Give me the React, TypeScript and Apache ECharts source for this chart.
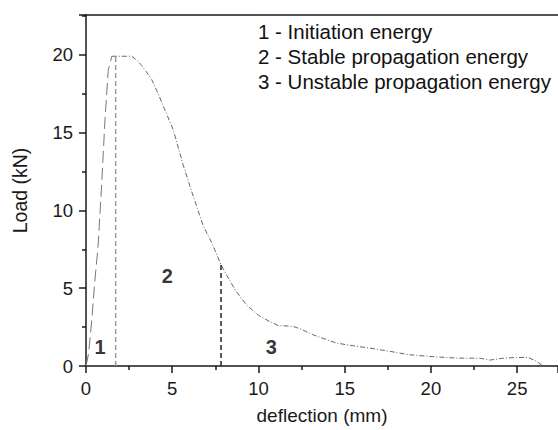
import React, { useEffect, useRef } from "react";
import * as echarts from "echarts";

// Rising part (initiation), dashed
const riseX = [0, 0.15, 0.33, 0.5, 0.7, 0.9, 1.1, 1.29, 1.5];
const riseY = [0, 0.8, 2.9, 5.3, 7.7, 11.5, 15.8, 19.0, 19.9];

// Remaining load-deflection curve
const curveX = [1.5, 2.0, 2.65, 3.0, 3.23, 3.5, 3.81, 4.1, 4.48, 5.05, 5.64, 6.13, 6.8, 7.3, 7.83, 8.16, 8.7, 9.31, 10.0, 10.67, 11.15, 12.0, 12.5, 13.18, 14.53, 15.5, 16.46, 17.62, 18.78, 20.33, 21.49, 22.84, 23.42, 24.19, 24.97, 25.64, 26.13, 26.5];
const curveY = [19.9, 19.9, 19.9, 19.6, 19.3, 18.9, 18.4, 17.7, 16.7, 15.2, 12.9, 11.2, 9.0, 7.9, 6.5, 5.83, 4.8, 3.92, 3.25, 2.85, 2.6, 2.55, 2.35, 2.0, 1.47, 1.3, 1.15, 0.94, 0.72, 0.58, 0.51, 0.5, 0.38, 0.5, 0.55, 0.55, 0.3, 0];

// Boundaries between the energy regions
const peakBoundaryX = 1.72;
const peakBoundaryY = 19.9;
const stableBoundaryX = 7.83;
const stableBoundaryY = 6.5;

// Region labels
const regionNames = ["1", "2", "3"];
const regionX = [0.82, 4.72, 10.75];
const regionY = [1.25, 5.8, 1.2];

const legendLines = [
  "1 - Initiation energy",
  "2 - Stable propagation energy",
  "3 - Unstable propagation energy",
];

const xMin = 0;
const xMax = 27.37;
const yMin = 0;
const yMax = 22.55;

const FONT = "'Liberation Sans', Arial, sans-serif";

export default function App() {
  const ref = useRef<HTMLDivElement>(null);
  useEffect(() => {
    if (!ref.current) return;
    const chart = echarts.init(ref.current, null, { renderer: "svg" });
    const axisLine = { show: true, lineStyle: { color: "#1a1a1a", width: 1.5 } };
    chart.setOption({
      animation: false,
      backgroundColor: "#fff",
      textStyle: { fontFamily: FONT },
      grid: { left: 86, top: 15, right: 0, bottom: 62, containLabel: false },
      xAxis: [
        {
          type: "value",
          min: xMin,
          max: xMax,
          interval: 5,
          name: "deflection (mm)",
          nameLocation: "middle",
          nameGap: 40,
          nameTextStyle: { fontSize: 19, color: "#1a1a1a", fontFamily: FONT },
          axisLine,
          axisTick: { show: true, length: 7, lineStyle: { color: "#1a1a1a", width: 1.5 } },
          minorTick: { show: true, splitNumber: 2, length: 4, lineStyle: { color: "#1a1a1a", width: 1.5 } },
          axisLabel: { fontSize: 18.5, color: "#1a1a1a", margin: 13, showMaxLabel: false, fontFamily: FONT },
          splitLine: { show: false },
        },
        {
          type: "value",
          position: "top",
          min: xMin,
          max: xMax,
          axisLine,
          axisTick: { show: false },
          axisLabel: { show: false },
          splitLine: { show: false },
        },
      ],
      yAxis: {
        type: "value",
        min: yMin,
        max: yMax,
        interval: 5,
        name: "Load (kN)",
        nameLocation: "middle",
        nameGap: 56,
        nameTextStyle: { fontSize: 19.5, color: "#1a1a1a", fontFamily: FONT },
        axisLine,
        axisTick: { show: true, length: 7, lineStyle: { color: "#1a1a1a", width: 1.5 } },
        minorTick: { show: true, splitNumber: 2, length: 4, lineStyle: { color: "#1a1a1a", width: 1.5 } },
        axisLabel: { fontSize: 18.5, color: "#1a1a1a", margin: 13, showMaxLabel: false, fontFamily: FONT },
        splitLine: { show: false },
      },
      series: [
        {
          type: "line",
          data: riseX.map((x, i) => [x, riseY[i]]),
          showSymbol: false,
          lineStyle: { color: "#777", width: 1, type: [12, 5] },
        },
        {
          type: "line",
          data: curveX.map((x, i) => [x, curveY[i]]),
          showSymbol: false,
          lineStyle: { color: "#666", width: 1, type: [5, 2, 1, 2] },
        },
        {
          type: "line",
          data: [[peakBoundaryX, 0], [peakBoundaryX, peakBoundaryY]],
          showSymbol: false,
          lineStyle: { color: "#999", width: 1.5, type: [5, 3] },
        },
        {
          type: "line",
          data: [[stableBoundaryX, 0], [stableBoundaryX, stableBoundaryY]],
          showSymbol: false,
          lineStyle: { color: "#222", width: 1.5, type: [5, 3] },
        },
        {
          type: "scatter",
          symbolSize: 0,
          data: regionNames.map((n, i) => ({ value: [regionX[i], regionY[i]], name: n })),
          label: {
            show: true,
            position: "inside",
            formatter: (p: any) => p.name,
            fontSize: 20,
            fontWeight: "bold",
            color: "#000",
            fontFamily: FONT,
          },
        },
      ],
      graphic: legendLines.map((t, i) => ({
        type: "text",
        x: 258,
        y: 31 + i * 25,
        style: { text: t, fontSize: 20.5, fill: "#111", fontFamily: FONT, verticalAlign: "middle", align: "left" },
      })),
    });
    return () => chart.dispose();
  }, []);
  return (
    <div
      ref={ref}
      style={{ position: "fixed", left: 0, top: 0, width: 558, height: 430 }}
    />
  );
}
